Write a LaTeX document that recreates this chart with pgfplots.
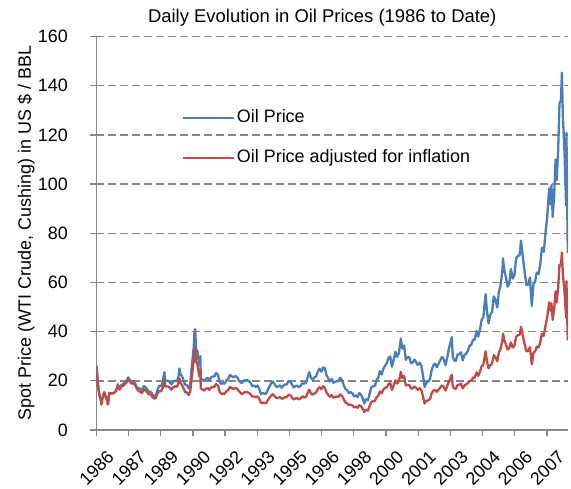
\documentclass[border=0pt]{standalone}
\usepackage{fontspec}
\setmainfont{Liberation Sans}
\usepackage{pgfplots}
\pgfplotsset{compat=1.18}
\usepackage{pgfplotstable}
\definecolor{oilblue}{RGB}{74,126,187}
\definecolor{oilred}{RGB}{190,75,72}
\definecolor{axgray}{RGB}{134,134,134}
\pgfplotstableread{
x nom real
1986.00 26.0 26.0
1986.04 23.0 23.0
1986.08 18.5 18.5
1986.13 15.4 15.4
1986.17 13.5 13.5
1986.21 12.6 12.6
1986.25 10.4 10.4
1986.29 12.8 12.8
1986.33 13.5 13.5
1986.38 15.4 15.4
1986.46 13.4 13.4
1986.54 11.6 11.6
1986.56 10.4 10.4
1986.63 15.1 15.1
1986.71 14.9 14.9
1986.79 14.9 14.9
1986.88 15.2 15.2
1986.96 16.1 16.1
1987.04 18.6 17.9
1987.13 17.0 16.4
1987.21 18.3 17.7
1987.29 18.6 17.9
1987.38 19.4 18.7
1987.46 20.0 19.3
1987.54 21.4 20.7
1987.63 20.3 19.6
1987.71 19.5 18.8
1987.79 19.8 19.1
1987.88 18.9 18.2
1987.96 17.3 16.7
1988.04 17.1 15.8
1988.13 16.7 15.5
1988.21 16.2 15.0
1988.29 17.9 16.6
1988.38 17.4 16.1
1988.46 16.5 15.3
1988.54 15.5 14.4
1988.63 15.5 14.4
1988.71 14.5 13.4
1988.79 13.8 12.8
1988.88 14.0 13.0
1988.96 16.3 15.1
1989.04 18.0 15.9
1989.13 17.8 15.7
1989.21 19.4 17.1
1989.29 23.5 20.8
1989.33 20.0 17.7
1989.46 20.0 17.7
1989.54 19.6 17.3
1989.63 18.5 16.4
1989.71 19.6 17.3
1989.79 20.1 17.8
1989.88 19.8 17.5
1989.96 21.1 18.7
1990.02 25.0 21.0
1990.06 22.9 19.2
1990.13 22.1 18.5
1990.21 20.4 17.1
1990.29 18.4 15.4
1990.38 18.2 15.3
1990.46 16.9 14.2
1990.54 18.6 15.6
1990.63 27.2 22.8
1990.71 33.7 28.3
1990.74 39.5 32.3
1990.78 41.0 33.6
1990.82 33.0 27.7
1990.88 32.3 27.1
1990.96 27.3 22.9
1991.01 26.5 21.3
1991.03 30.0 24.2
1991.05 21.0 16.9
1991.13 20.5 16.5
1991.21 19.9 16.0
1991.29 20.8 16.7
1991.38 21.2 17.1
1991.46 20.2 16.3
1991.54 21.4 17.2
1991.63 21.7 17.5
1991.71 21.9 17.6
1991.79 23.2 18.7
1991.88 22.5 18.1
1991.96 19.5 15.7
1992.04 18.8 14.7
1992.13 19.0 14.8
1992.21 18.9 14.8
1992.29 20.2 15.8
1992.38 20.9 16.3
1992.46 22.4 17.5
1992.54 21.8 17.0
1992.63 21.4 16.7
1992.71 21.9 17.1
1992.79 21.7 16.9
1992.88 20.3 15.9
1992.96 19.4 15.2
1993.04 19.1 14.5
1993.13 20.1 15.2
1993.21 20.3 15.4
1993.29 20.3 15.4
1993.38 19.9 15.1
1993.46 19.1 14.5
1993.54 17.9 13.6
1993.63 18.0 13.6
1993.71 17.5 13.3
1993.79 18.1 13.7
1993.88 16.7 12.7
1993.96 14.5 11.0
1994.04 15.0 11.1
1994.13 14.8 11.0
1994.21 14.7 10.9
1994.29 16.4 12.1
1994.38 17.9 13.2
1994.46 19.1 14.1
1994.54 19.7 14.6
1994.63 18.4 13.6
1994.71 17.5 13.0
1994.79 17.7 13.1
1994.88 18.1 13.4
1994.96 17.2 12.7
1995.04 18.0 12.9
1995.13 18.5 13.3
1995.21 18.6 13.4
1995.29 19.9 14.3
1995.38 19.7 14.2
1995.46 18.4 13.2
1995.54 17.3 12.4
1995.63 17.9 12.9
1995.71 18.0 12.9
1995.79 17.4 12.5
1995.88 18.0 12.9
1995.96 19.0 13.7
1996.04 18.9 13.2
1996.13 19.1 13.4
1996.21 21.3 14.9
1996.29 23.5 16.4
1996.38 21.2 14.8
1996.46 20.4 14.3
1996.54 21.3 14.9
1996.63 21.9 15.3
1996.71 23.9 16.7
1996.79 24.9 17.4
1996.88 23.7 16.6
1996.96 25.4 17.8
1997.04 25.2 17.2
1997.13 22.2 15.2
1997.21 21.0 14.3
1997.29 19.7 13.5
1997.38 20.8 14.2
1997.46 19.2 13.1
1997.54 19.6 13.4
1997.63 19.9 13.6
1997.71 19.8 13.5
1997.79 21.3 14.5
1997.88 20.2 13.8
1997.96 18.3 12.5
1998.04 16.7 11.2
1998.13 16.1 10.8
1998.21 15.0 10.1
1998.29 15.4 10.3
1998.38 14.9 10.0
1998.46 13.7 9.2
1998.54 14.1 9.5
1998.63 13.4 9.0
1998.71 15.0 10.1
1998.79 14.4 9.7
1998.88 12.9 8.7
1998.95 10.8 7.3
1999.04 12.5 8.2
1999.13 12.0 7.9
1999.21 14.7 9.7
1999.29 17.3 11.4
1999.38 17.8 11.7
1999.46 17.9 11.8
1999.54 20.1 13.2
1999.63 21.3 14.0
1999.71 23.9 15.7
1999.79 22.6 14.9
1999.88 25.0 16.5
1999.96 26.1 17.2
2000.04 27.2 17.3
2000.13 29.4 18.7
2000.21 29.9 19.0
2000.29 25.7 16.3
2000.38 28.8 18.3
2000.46 31.8 20.2
2000.54 29.7 18.9
2000.63 31.3 19.9
2000.72 37.2 23.7
2000.79 33.1 21.1
2000.88 34.4 21.9
2000.96 28.5 18.1
2001.04 29.6 18.3
2001.13 29.6 18.3
2001.21 27.2 16.8
2001.29 27.4 17.0
2001.38 28.6 17.7
2001.46 27.6 17.1
2001.54 26.4 16.3
2001.63 27.4 17.0
2001.71 26.2 16.2
2001.79 22.2 13.7
2001.87 17.5 10.8
2001.96 19.3 11.9
2002.04 19.7 12.0
2002.13 20.7 12.6
2002.21 24.4 14.9
2002.29 26.3 16.0
2002.38 27.0 16.4
2002.46 25.5 15.5
2002.54 26.9 16.4
2002.63 28.4 17.3
2002.71 29.7 18.1
2002.79 28.9 17.6
2002.88 26.3 16.0
2002.96 29.4 17.9
2003.04 32.9 19.6
2003.13 35.9 21.4
2003.18 37.8 22.5
2003.23 30.0 17.9
2003.29 28.3 16.9
2003.38 28.1 16.7
2003.46 30.7 18.3
2003.54 30.8 18.4
2003.63 31.6 18.8
2003.71 28.3 16.9
2003.79 30.3 18.1
2003.88 31.1 18.5
2003.96 32.2 19.2
2004.04 34.3 19.9
2004.13 34.7 20.1
2004.21 36.7 21.3
2004.29 36.7 21.3
2004.38 40.3 23.4
2004.46 38.0 22.0
2004.54 40.7 23.6
2004.63 44.9 26.0
2004.71 45.9 26.6
2004.79 53.1 30.8
2004.82 55.2 32.0
2004.88 48.5 28.1
2004.96 43.3 25.1
2005.04 46.8 26.3
2005.13 48.0 26.9
2005.21 54.3 30.5
2005.29 53.0 29.7
2005.38 49.8 27.9
2005.46 56.3 31.6
2005.54 58.7 32.9
2005.63 65.0 36.5
2005.66 69.8 39.2
2005.71 65.6 36.8
2005.79 62.4 35.0
2005.88 58.3 32.7
2005.96 59.4 33.3
2006.04 65.5 35.6
2006.13 61.6 33.5
2006.21 62.9 34.2
2006.29 69.7 37.9
2006.38 70.9 38.6
2006.46 71.0 38.6
2006.53 77.0 41.9
2006.58 73.1 39.8
2006.71 63.8 34.7
2006.79 58.9 32.0
2006.88 59.1 32.2
2006.96 62.0 33.7
2007.05 50.5 26.7
2007.13 59.3 31.4
2007.21 60.4 32.0
2007.29 64.0 33.9
2007.38 63.5 33.6
2007.46 67.5 35.7
2007.54 74.1 39.2
2007.63 72.4 38.3
2007.71 79.9 42.3
2007.79 86.2 45.6
2007.89 98.2 51.9
2007.96 91.7 48.5
2008.00 99.6 51.5
2008.06 86.6 44.8
2008.13 95.4 49.2
2008.20 110.0 56.4
2008.25 101.5 51.8
2008.32 112.6 57.4
2008.39 133.0 67.2
2008.46 133.9 67.0
2008.505 145.3 72.2
2008.55 128.0 63.6
2008.63 112.9 56.3
2008.71 91.2 45.6
2008.725 120.9 60.5
2008.76 93.0 46.5
2008.79 72.0 36.4
}\oildata
\begin{document}
\begin{tikzpicture}
\begin{axis}[
  scale only axis, width=471.7bp, height=393.5bp,
  xmin=1986, xmax=2008.8, ymin=0, ymax=160,
  ytick={0,20,...,160},
  xtick={1986,1987.556,1989.112,1990.668,1992.224,1993.78,1995.336,1996.892,1998.448,2000.004,2001.56,2003.116,2004.672,2006.228,2007.784},
  xticklabels={1986,1987,1989,1990,1992,1993,1995,1996,1998,2000,2001,2003,2004,2006,2007},
  axis x line*=bottom, axis y line*=left,
  axis line style={draw=axgray, line width=1.3bp, -},
  tick style={draw=axgray, line width=1.3bp},
  tick align=outside, major tick length=6bp,
  ymajorgrids, grid style={draw=axgray, line width=1.4bp, dash pattern=on 8bp off 4bp},
  /pgf/number format/assume math mode=true,
  tick label style={font=\fontsize{18}{21}\selectfont, text=black},
  yticklabel style={xshift=-19bp},
  xticklabel style={rotate=45, anchor=north east, yshift=-13bp, xshift=1bp},
  title={Daily Evolution in Oil Prices (1986 to Date)},
  title style={at={(0.479,1.032)}, anchor=center, font=\fontsize{18.5}{22}\selectfont},
  ylabel={Spot Price (WTI Crude, Cushing) in US \$ / BBL},
  ylabel style={at={(axis description cs:-0.149,0.5)}, anchor=center, font=\fontsize{18}{21}\selectfont},
  legend style={draw=none, fill=none, at={(0.1805,0.742)}, anchor=west, inner sep=0pt,
    font=\fontsize{18}{21}\selectfont, row sep=19bp,
    nodes={inner sep=2bp, text height=13bp, text depth=4bp}},
  legend cell align=left,
  legend image code/.code={\draw[#1] (0bp,0bp) -- (51bp,0bp);},
]
\addplot[oilblue, line width=2.3bp, line join=round] table[x=x,y=nom]{\oildata};
\addlegendentry{Oil Price}
\addplot[oilred, line width=2.3bp, line join=round] table[x=x,y=real]{\oildata};
\addlegendentry{Oil Price adjusted for inflation}
\end{axis}
\pgfresetboundingbox
\useasboundingbox (-96.3bp,-59bp) rectangle (474.7bp,430bp);
\end{tikzpicture}
\end{document}
